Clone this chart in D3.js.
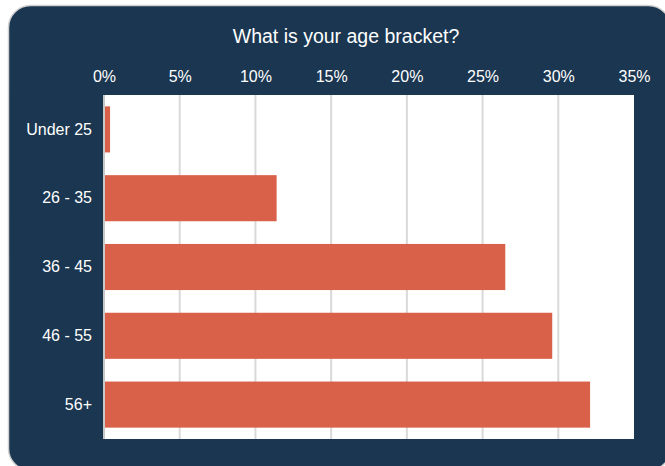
<!DOCTYPE html>
<html><head><meta charset="utf-8">
<script src="https://cdn.jsdelivr.net/npm/d3@7"></script>
<style>html,body{margin:0;padding:0;background:#fff;}svg{display:block;}text{font-family:'Liberation Sans',Arial,sans-serif;}</style>
</head><body>
<script>
const categories = ["Under 25", "26 - 35", "36 - 45", "46 - 55", "56+"];
const values = [0.4, 11.4, 26.5, 29.6, 32.1];
const tickValues = [0, 5, 10, 15, 20, 25, 30, 35];
const title = "What is your age bracket?";

const W = 665, H = 466;
const svg = d3.select("body").append("svg").attr("width", W).attr("height", H);

svg.append("rect").attr("x", 8.5).attr("y", 5.5).attr("width", 662).attr("height", 465)
  .attr("rx", 22).attr("fill", "#1a3650").attr("stroke", "#d0d0d0").attr("stroke-width", 1.5);

const m = {left: 104, right: 634, top: 95, bottom: 439};
svg.append("rect").attr("x", m.left).attr("y", m.top).attr("width", m.right - m.left)
  .attr("height", m.bottom - m.top).attr("fill", "#fff");

const x = d3.scaleLinear().domain([0, 35]).range([m.left, m.right]);
const y = d3.scaleBand().domain(categories).range([m.top, m.bottom]).paddingInner(0.33).paddingOuter(0.165);

svg.append("g").selectAll("line").data(tickValues.filter(d => d > 0 && d < 35)).join("line")
  .attr("x1", d => x(d)).attr("x2", d => x(d)).attr("y1", m.top).attr("y2", m.bottom)
  .attr("stroke", "#d9d9d9").attr("stroke-width", 2);

svg.append("g").selectAll("rect").data(categories).join("rect")
  .attr("x", x(0) + 1).attr("y", d => y(d))
  .attr("width", (d, i) => x(values[i]) - x(0) - 1).attr("height", y.bandwidth())
  .attr("fill", "#d9614a");

svg.append("line").attr("x1", m.left).attr("x2", m.left).attr("y1", m.top).attr("y2", m.bottom)
  .attr("stroke", "#c8c8c8").attr("stroke-width", 2);

const xAxis = d3.axisTop(x).tickValues(tickValues).tickFormat(d => d + "%").tickSize(0).tickPadding(0);
const gx = svg.append("g").attr("transform", `translate(0,${m.top - 13})`).call(xAxis);
gx.select(".domain").remove();
gx.selectAll("text").attr("fill", "#fff").attr("font-size", 16).attr("font-family", null);

const yAxis = d3.axisLeft(y).tickSize(0).tickPadding(12);
const gy = svg.append("g").attr("transform", `translate(${m.left},0)`).call(yAxis);
gy.select(".domain").remove();
gy.selectAll("text").attr("fill", "#fff").attr("font-size", 16).attr("font-family", null);
gx.attr("font-family", null); gy.attr("font-family", null);

svg.append("text").attr("x", 346).attr("y", 43).attr("text-anchor", "middle")
  .attr("fill", "#fff").attr("font-size", 19.5)
  .text(title);
</script>
</body></html>
